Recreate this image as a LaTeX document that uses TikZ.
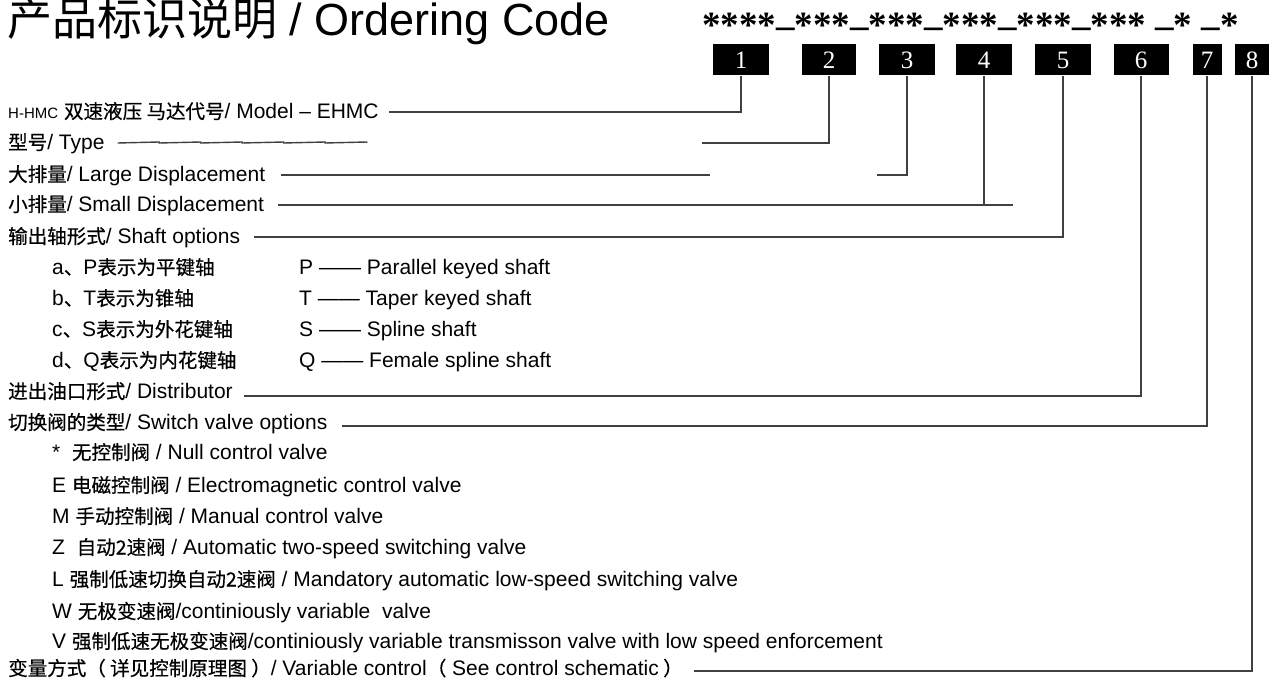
\documentclass[tikz,border=0pt]{standalone}
\usepackage{fontspec}
\setmainfont{Liberation Sans}
\newfontfamily\cjkfont[Scale=0.93,FakeBold=0.5]{Noto Sans CJK SC}
\newfontfamily\cjktitle{Noto Sans CJK SC}
\newfontfamily\numfont{Liberation Serif}
\newcommand\zh[1]{{\cjkfont #1}}
\newcommand\usc{\raisebox{0.33em}{\_}}
\tikzset{
  hang/.style={anchor=west,inner sep=0pt,text height=13pt,text depth=0pt,font=\fontsize{21}{24}\selectfont},
  numbox/.style={fill=black,text=white,inner sep=0pt,minimum height=31pt,font=\numfont\fontsize{25}{25}\selectfont},
  lead/.style={black!75,line width=1.4pt},
}
\begin{document}
\begin{tikzpicture}[x=1pt,y=-1pt]
        \useasboundingbox (0,0) rectangle (1270,682);

        % 标题
        \node[anchor=base west,inner sep=0pt,font=\fontsize{45}{48}\selectfont] (title) at (7,36) {{\cjktitle 产品标识说明} / Ordering Code};
        \node[anchor=base west,inner sep=0pt,font=\numfont\bfseries\fontsize{37}{37}\selectfont] (code) at (702,38) {****\usc***\usc***\usc***\usc***\usc*** \usc* \usc*};

        % 编号方块
        \foreach \n/\x/\w in {1/741/56,2/829/54,3/907/56,4/984/56,5/1063/56,6/1141/55,7/1207/29,8/1252/34}
            \node[numbox,minimum width=\w pt] (b\n) at (\x,60) {\n};

        % 各项说明
        \node[hang] (model) at (8,112) {{\fontsize{15}{15}\selectfont H-HMC} \zh{双速液压 马达代号}/ Model – EHMC};
        \node[hang] (type) at (8,143) {\zh{型号}/ Type};
        \node[hang] (large) at (8,175) {\zh{大排量}/ Large Displacement};
        \node[hang] (small) at (8,205) {\zh{小排量}/ Small Displacement};
        \node[hang] (shaft) at (8,237) {\zh{输出轴形式}/ Shaft options};

        % 轴的形式
        \node[hang] (optA) at (52,268) {a\zh{、}P\zh{表示为平键轴}};
        \node[hang] (optB) at (52,299) {b\zh{、}T\zh{表示为锥轴}};
        \node[hang] (optC) at (52,330) {c\zh{、}S\zh{表示为外花键轴}};
        \node[hang] (optD) at (52,361) {d\zh{、}Q\zh{表示为内花键轴}};
        \node[hang] (optAen) at (299,268) {P —— Parallel keyed shaft};
        \node[hang] (optBen) at (299,299) {T —— Taper keyed shaft};
        \node[hang] (optCen) at (299,330) {S —— Spline shaft};
        \node[hang] (optDen) at (299,361) {Q —— Female spline shaft};

        \node[hang] (dist) at (8,392) {\zh{进出油口形式}/ Distributor};
        \node[hang] (switch) at (8,423) {\zh{切换阀的类型}/ Switch valve options};

        % 切换阀
        \node[hang] (valN) at (52,453) {*\ \ \zh{无控制阀} / Null control valve};
        \node[hang] (valE) at (52,486) {E \zh{电磁控制阀} / Electromagnetic control valve};
        \node[hang] (valM) at (52,517) {M \zh{手动控制阀} / Manual control valve};
        \node[hang] (valZ) at (52,548) {Z\ \ \zh{自动2速阀} / Automatic two-speed switching valve};
        \node[hang] (valL) at (52,580) {L \zh{强制低速切换自动2速阀} / Mandatory automatic low-speed switching valve};
        \node[hang] (valW) at (52,612) {W \zh{无极变速阀}/continiously variable\ \ valve};
        \node[hang] (valV) at (52,642) {V \zh{强制低速无极变速阀}/continiously variable transmisson valve with low speed enforcement};

        \node[hang] (var) at (8,669) {\zh{变量方式（ 详见控制原理图 ）}/ Variable control\zh{（} See control schematic\zh{ ）}};

        % 引线
        \draw[lead] ([xshift=10pt]model.east) -| (b1.south);
        \draw[lead] ([xshift=13pt]type.east) foreach \i in {1,...,6} {-- ++(41.5,-1) -- ++(0,1)};
        \coordinate (typeR) at (702,143);
        \draw[lead] (typeR) -| (b2.south);
        \coordinate (largeR) at (710,175);
        \coordinate (largeC) at (877,175);
        \draw[lead] ([xshift=16pt]large.east) -- (largeR);
        \draw[lead] (largeC) -| (b3.south);
        \coordinate (smallR) at (1013,205);
        \draw[lead] ([xshift=14pt]small.east) -- (smallR);
        \draw[lead] (b4.south) -- (b4.south |- smallR);
        \draw[lead] ([xshift=14pt]shaft.east) -| (b5.south);
        \draw[lead] ([xshift=11pt,yshift=-4pt]dist.east) -| (b6.south);
        \draw[lead] ([xshift=14pt,yshift=-3pt]switch.east) -| (b7.south);
        \draw[lead] ([xshift=11pt,yshift=-2pt]var.east) -| (b8.south);
\end{tikzpicture}
\end{document}
